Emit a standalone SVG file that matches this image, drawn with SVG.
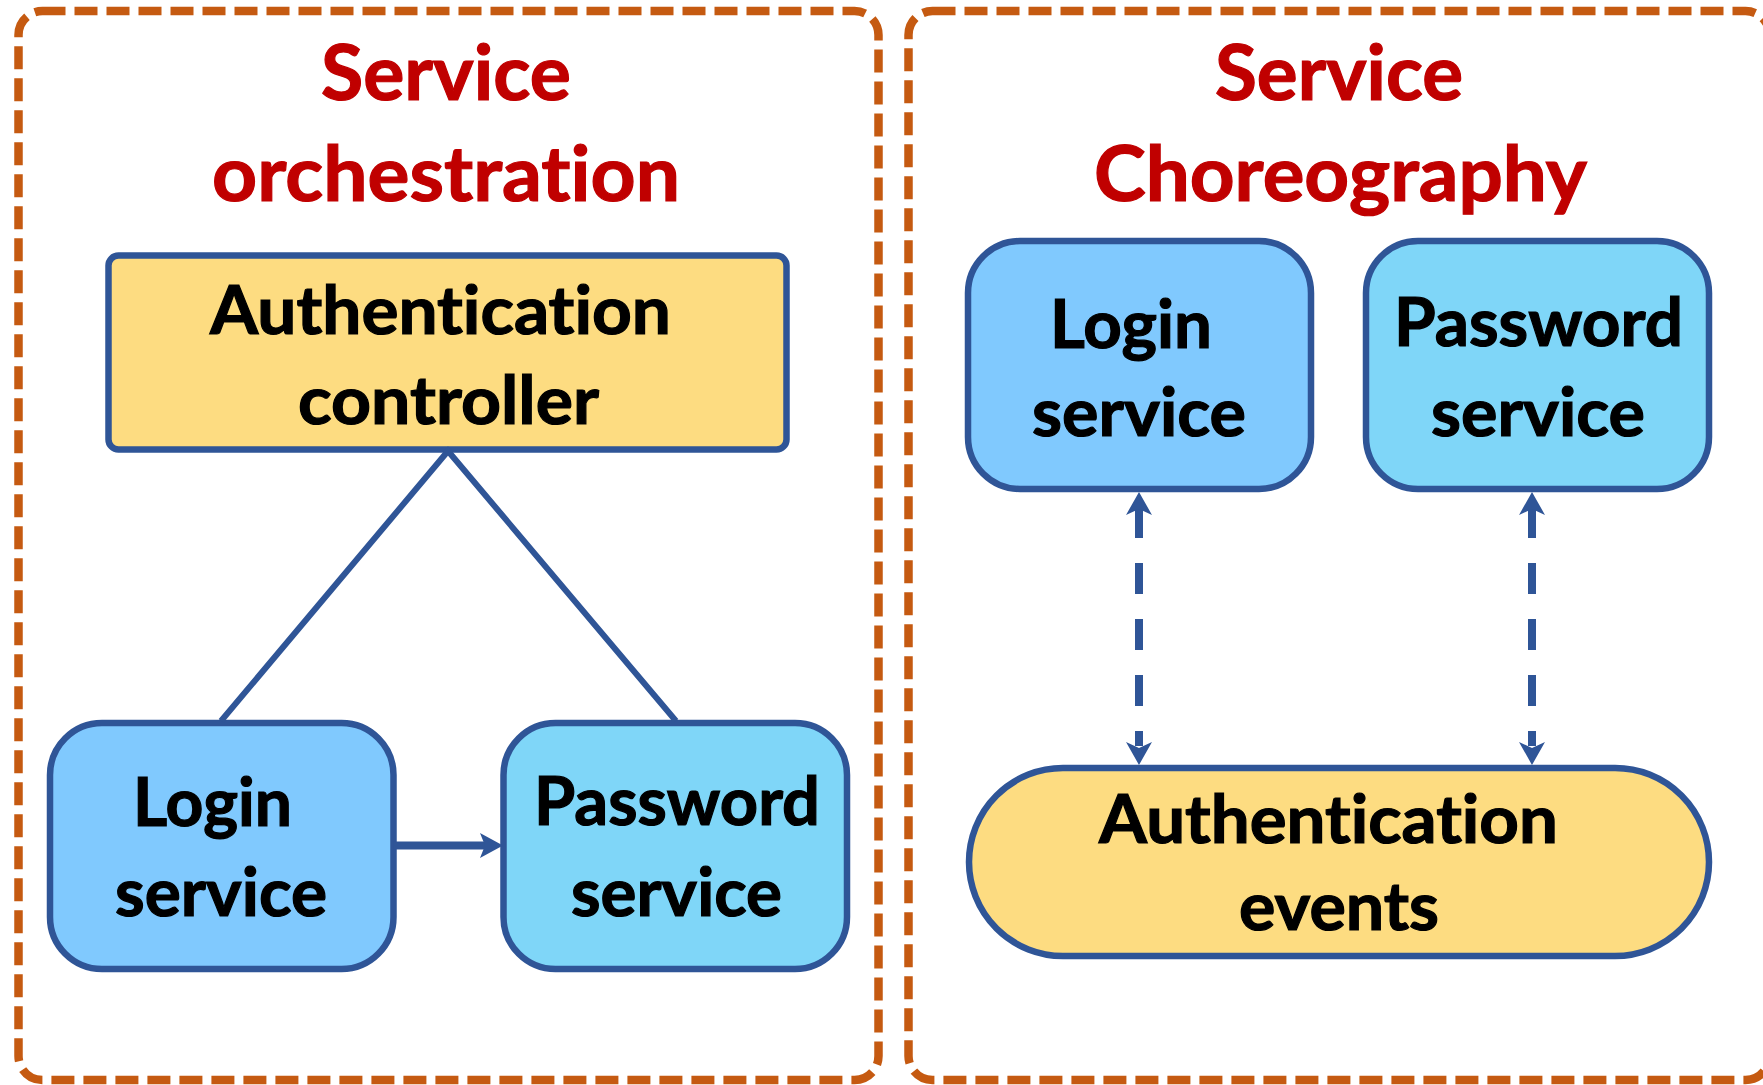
<svg xmlns="http://www.w3.org/2000/svg" width="1763" height="1085" viewBox="0 0 1763 1085">
<style>
.frame{fill:none;stroke:#C55A11;stroke-width:8.5;stroke-dasharray:23 9}
.title{font-family:Lato,'Open Sans',sans-serif;font-weight:700;font-size:77px;fill:#C00000;stroke:#C00000;stroke-width:1.2;font-variant-ligatures:none}
.lbl{font-family:Lato,'Open Sans',sans-serif;font-weight:700;font-size:67px;fill:#000;stroke:#000;stroke-width:1.2;font-variant-ligatures:none}
.box{stroke:#2F5597;stroke-width:6.5}
.gold{fill:#FDDC81}
.blue{fill:#80C9FE}
.cyan{fill:#7FD6F8}
.link{stroke:#2F5597;stroke-width:6;fill:none;stroke-linejoin:miter}
.arrow{stroke:#2F5597;stroke-width:8;fill:none}
.dash{stroke:#2F5597;stroke-width:8;fill:none;stroke-dasharray:31 25}
.head{fill:#2F5597}
</style>
<g id="orchestration-frame">
<rect class="frame" x="18.5" y="11" width="860" height="1069" rx="24"/>
<text class="title" x="321" y="100" textLength="250" lengthAdjust="spacingAndGlyphs">Service</text>
<text class="title" x="212" y="201" textLength="468" lengthAdjust="spacingAndGlyphs">orchestration</text>
</g>
<g id="choreography-frame">
<rect class="frame" x="908.5" y="11" width="861" height="1069" rx="24"/>
<text class="title" x="1215" y="100" textLength="248" lengthAdjust="spacingAndGlyphs">Service</text>
<text class="title" x="1094" y="201" textLength="493" lengthAdjust="spacingAndGlyphs">Choreography</text>
</g>
<g id="auth-controller">
<rect class="box gold" x="108.5" y="255.5" width="678" height="194" rx="10"/>
<text class="lbl" x="210" y="334" textLength="461" lengthAdjust="spacingAndGlyphs">Authentication</text>
<text class="lbl" x="298" y="424" textLength="301" lengthAdjust="spacingAndGlyphs">controller</text>
</g>
<g id="login-service-left">
<rect class="box blue" x="50" y="723" width="343.5" height="246" rx="52"/>
<text class="lbl" x="133" y="826" textLength="159" lengthAdjust="spacingAndGlyphs">Login</text>
<text class="lbl" x="115" y="916" textLength="212" lengthAdjust="spacingAndGlyphs">service</text>
</g>
<g id="password-service-left">
<rect class="box cyan" x="503.5" y="723" width="343.5" height="246" rx="52"/>
<text class="lbl" x="534" y="825" textLength="286" lengthAdjust="spacingAndGlyphs">Password</text>
<text class="lbl" x="571" y="916" textLength="211" lengthAdjust="spacingAndGlyphs">service</text>
</g>
<g id="login-service-right">
<rect class="box blue" x="968" y="241" width="343" height="248" rx="52"/>
<text class="lbl" x="1050" y="348" textLength="162" lengthAdjust="spacingAndGlyphs">Login</text>
<text class="lbl" x="1032" y="436" textLength="214" lengthAdjust="spacingAndGlyphs">service</text>
</g>
<g id="password-service-right">
<rect class="box cyan" x="1366" y="241" width="343" height="248" rx="52"/>
<text class="lbl" x="1394" y="346" textLength="289" lengthAdjust="spacingAndGlyphs">Password</text>
<text class="lbl" x="1431" y="436" textLength="214" lengthAdjust="spacingAndGlyphs">service</text>
</g>
<g id="auth-events">
<rect class="box gold" x="969" y="768" width="740" height="188" rx="94"/>
<text class="lbl" x="1099" y="843" textLength="459" lengthAdjust="spacingAndGlyphs">Authentication</text>
<text class="lbl" x="1239" y="930" textLength="200" lengthAdjust="spacingAndGlyphs">events</text>
</g>
<g id="connectors">
<polyline class="link" points="221,721 448,451 676,721"/>
<line class="arrow" x1="393.5" y1="845.5" x2="488" y2="845.5"/>
<polygon class="head" points="503,845.5 480,833 485,845.5 480,858"/>
<line class="dash" x1="1139" y1="507" x2="1139" y2="746"/>
<polygon class="head" points="1139,492 1152,515 1139,509 1126,515"/>
<polygon class="head" points="1139,765 1152,742 1139,748 1126,742"/>
<line class="dash" x1="1532" y1="507" x2="1532" y2="746"/>
<polygon class="head" points="1532,492 1545,515 1532,509 1519,515"/>
<polygon class="head" points="1532,765 1545,742 1532,748 1519,742"/>
</g>
</svg>
